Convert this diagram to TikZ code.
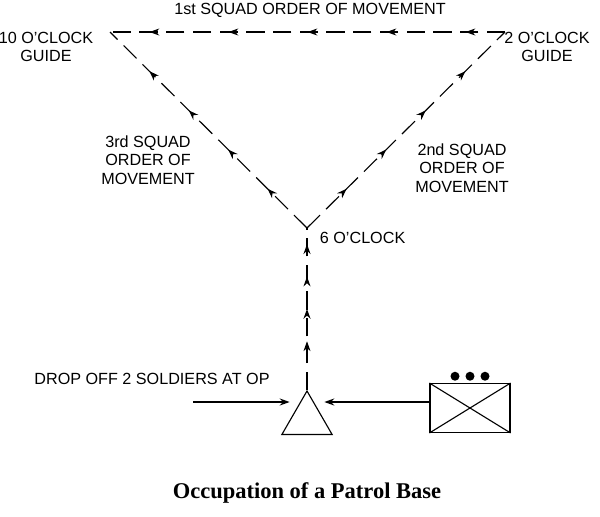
\documentclass[tikz,border=0pt]{standalone}
\usepackage{fontspec}
\setmainfont{Liberation Sans}
\newfontfamily\titlefont{Liberation Serif}
\usetikzlibrary{arrows.meta,positioning,decorations.markings,shapes.geometric}
\tikzset{
  % Beschriftungen
  lbl/.style={font=\fontsize{11.5}{13}\selectfont, align=center, inner sep=1pt},
  % Marschwege
  route/.style={thick, dash pattern=on 13pt off 6pt,
    postaction={decorate, decoration={markings,
      mark=between positions #1 step 0.2 with {\arrow{Stealth[length=7pt,width=5pt]}}}}},
  route/.default={0.2 and 0.95},
  feed/.style={thick, -{Stealth[length=7pt,width=5pt]}},
}
\begin{document}
\begin{tikzpicture}[x=0.025cm, y=-0.025cm]
  \useasboundingbox (0,0) rectangle (600,516);
  % Eckpunkte
  \coordinate (ten) at (110,32);
  \coordinate (two) at (505,32);
  \coordinate (six) at (307,228);
  \node[draw, thick, regular polygon, regular polygon sides=3, minimum size=1.45cm, inner sep=0pt] (op) at (307,420) {};
  \node[draw, thick, minimum width=2cm, minimum height=1.22cm, inner sep=0pt] (plt) at (470,408) {};
  \draw[thick] (plt.north west) -- (plt.south east) (plt.south west) -- (plt.north east);
  \foreach \dx in {-15,0,15} \fill ([xshift=\dx*0.025cm, yshift=0.17cm]plt.north) circle (3.2pt);
  \coordinate (lft) at (193,402);
  % Wege
  \draw[route={0.3 and 0.95}] (op.north) -- (six);
  \draw[route] (six) -- (two);
  \draw[route] (six) -- (ten);
  \draw[route={0.1 and 0.95}] (two) -- (ten);
  \draw[feed] (plt.west |- 0,402) -- (op.east |- 0,402);
  \draw[feed] (lft) -- (op.west |- 0,402);
  % Texte
  \node[lbl] at (310,10) {1st SQUAD ORDER OF MOVEMENT};
  \node[lbl] at (46,47) {10 O'CLOCK\\GUIDE};
  \node[lbl] at (547,47) {2 O'CLOCK\\GUIDE};
  \node[lbl] at (148,160) {3rd SQUAD\\ORDER OF\\MOVEMENT};
  \node[lbl] at (462,168) {2nd SQUAD\\ORDER OF\\MOVEMENT};
  \node[lbl, right=8pt of six, yshift=-0.25cm] {6 O'CLOCK};
  \node[lbl] at (152,379) {DROP OFF 2 SOLDIERS AT OP};
  \node[font=\titlefont\bfseries\fontsize{16}{18}\selectfont] at (307,493) {Occupation of a Patrol Base};
\end{tikzpicture}
\end{document}
